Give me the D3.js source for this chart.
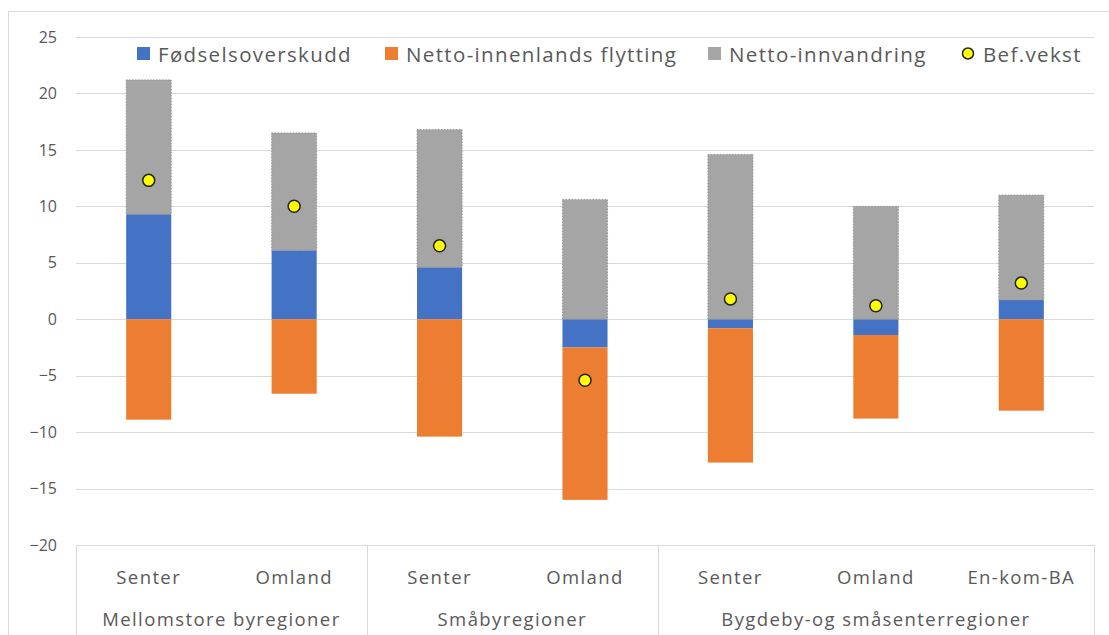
<!DOCTYPE html>
<html><head><meta charset="utf-8">
<script src="https://cdn.jsdelivr.net/npm/d3@7"></script>
<style>
body{margin:0;background:#fff;}
svg{display:block;font-family:"Open Sans",sans-serif;}
</style></head>
<body><svg id="c" width="1109" height="635"></svg>
<script>
const categories = ["Senter","Omland","Senter","Omland","Senter","Omland","En-kom-BA"];
const groups = [
  {name:"Mellomstore byregioner", n:2},
  {name:"Småbyregioner", n:2},
  {name:"Bygdeby-og småsenterregioner", n:3}
];
const fodselsoverskudd = [9.3, 6.1, 4.6, -2.5, -0.8, -1.4, 1.7];
const innenlands = [-8.9, -6.6, -10.4, -13.5, -11.9, -7.4, -8.1];
const innvandring = [11.9, 10.4, 12.2, 10.6, 14.6, 10.0, 9.3];
const befvekst = [12.3, 10.0, 6.5, -5.4, 1.8, 1.2, 3.2];
const yTicks = [25,20,15,10,5,0,-5,-10,-15,-20];
const seriesNames = ["Fødselsoverskudd","Netto-innenlands flytting","Netto-innvandring","Bef.vekst"];
const colors = ["#4472C4","#ED7D31","#A5A5A5"];

const svg = d3.select("#c");
const x0 = 76, x1 = 1094;
const x = d3.scaleBand().domain(d3.range(categories.length)).range([x0, x1]).padding(0);
const y = d3.scaleLinear().domain([-20,25]).range([545,37]);
const barW = x.bandwidth()*0.31;

// chart frame
svg.append("path").attr("d","M8.5,635 V11.5 H1109").attr("fill","none").attr("stroke","#d9d9d9");

// gridlines
svg.append("g").selectAll("line").data(yTicks).join("line")
  .attr("x1",x0).attr("x2",x1).attr("y1",d=>Math.round(y(d))+0.5).attr("y2",d=>Math.round(y(d))+0.5)
  .attr("stroke","#d9d9d9").attr("stroke-width",1);

// y axis labels
const yAxis = d3.axisLeft(y).tickValues(yTicks).tickSize(0).tickPadding(0);
const ga = svg.append("g").attr("transform","translate(57,0)").call(yAxis);
ga.select(".domain").remove();
ga.selectAll("text").attr("fill","#595959").attr("font-size","16px").attr("font-family","Open Sans, sans-serif");

// stacked data
const rows = categories.map((c,i)=>({i, a:fodselsoverskudd[i], b:innenlands[i], c:innvandring[i]}));
const stack = d3.stack().keys(["a","b","c"]).offset(d3.stackOffsetDiverging);
const stacked = stack(rows);

svg.append("g").selectAll("g").data(stacked).join("g")
  .attr("fill",(d,k)=>colors[k])
  .selectAll("rect").data(d=>d).join("rect")
  .attr("x",d=>x(d.data.i)+x.bandwidth()/2-barW/2)
  .attr("width",barW)
  .attr("y",d=>y(Math.max(d[0],d[1])))
  .attr("height",d=>Math.abs(y(d[0])-y(d[1])));

// grey bar dotted outline
svg.append("g").selectAll("rect").data(stacked[2]).join("rect")
  .attr("x",d=>x(d.data.i)+x.bandwidth()/2-barW/2)
  .attr("width",barW)
  .attr("y",d=>y(Math.max(d[0],d[1])))
  .attr("height",d=>Math.abs(y(d[0])-y(d[1])))
  .attr("fill","none").attr("stroke","#8c8c8c").attr("stroke-width",0.8).attr("stroke-dasharray","1.5,1.5");

// dots
svg.append("g").selectAll("circle").data(befvekst).join("circle")
  .attr("cx",(d,i)=>x(i)+x.bandwidth()/2)
  .attr("cy",d=>y(d))
  .attr("r",6).attr("fill","#FFFF00").attr("stroke","#222").attr("stroke-width",1.5);

// category axis lines
let idx = 0;
const bounds = [0];
groups.forEach(g=>{idx+=g.n; bounds.push(idx);});
svg.append("g").selectAll("line").data(bounds).join("line")
  .attr("x1",d=> d===categories.length ? x1+0.5 : Math.round(x(d))+0.5)
  .attr("x2",d=> d===categories.length ? x1+0.5 : Math.round(x(d))+0.5)
  .attr("y1",545).attr("y2",635).attr("stroke","#d9d9d9");

// category labels
svg.append("g").selectAll("text").data(categories).join("text")
  .attr("x",(d,i)=>x(i)+x.bandwidth()/2).attr("y",584)
  .attr("text-anchor","middle").attr("fill","#595959").attr("font-size","18.5px")
  .attr("letter-spacing","1.4px").text(d=>d);

// group labels
svg.append("g").selectAll("text").data(groups).join("text")
  .attr("x",(d,k)=>(x(bounds[k]) + (bounds[k+1]===categories.length? x1 : x(bounds[k+1])))/2)
  .attr("y",626).attr("text-anchor","middle").attr("fill","#595959").attr("font-size","18.5px")
  .attr("letter-spacing","1.4px").text(d=>d.name);

// legend
const legX = [137, 385, 708, 962];
const lg = svg.append("g");
seriesNames.forEach((n,k)=>{
  if(k<3){
    lg.append("rect").attr("x",legX[k]).attr("y",47).attr("width",13).attr("height",13).attr("fill",colors[k]);
  } else {
    lg.append("circle").attr("cx",legX[k]+6).attr("cy",53.5).attr("r",5.5).attr("fill","#FFFF00").attr("stroke","#222").attr("stroke-width",1.5);
  }
  lg.append("text").attr("x",legX[k]+21).attr("y",61.5).attr("fill","#595959").attr("font-size","20.5px")
    .attr("letter-spacing","1.35px").text(n);
});
</script></body></html>
